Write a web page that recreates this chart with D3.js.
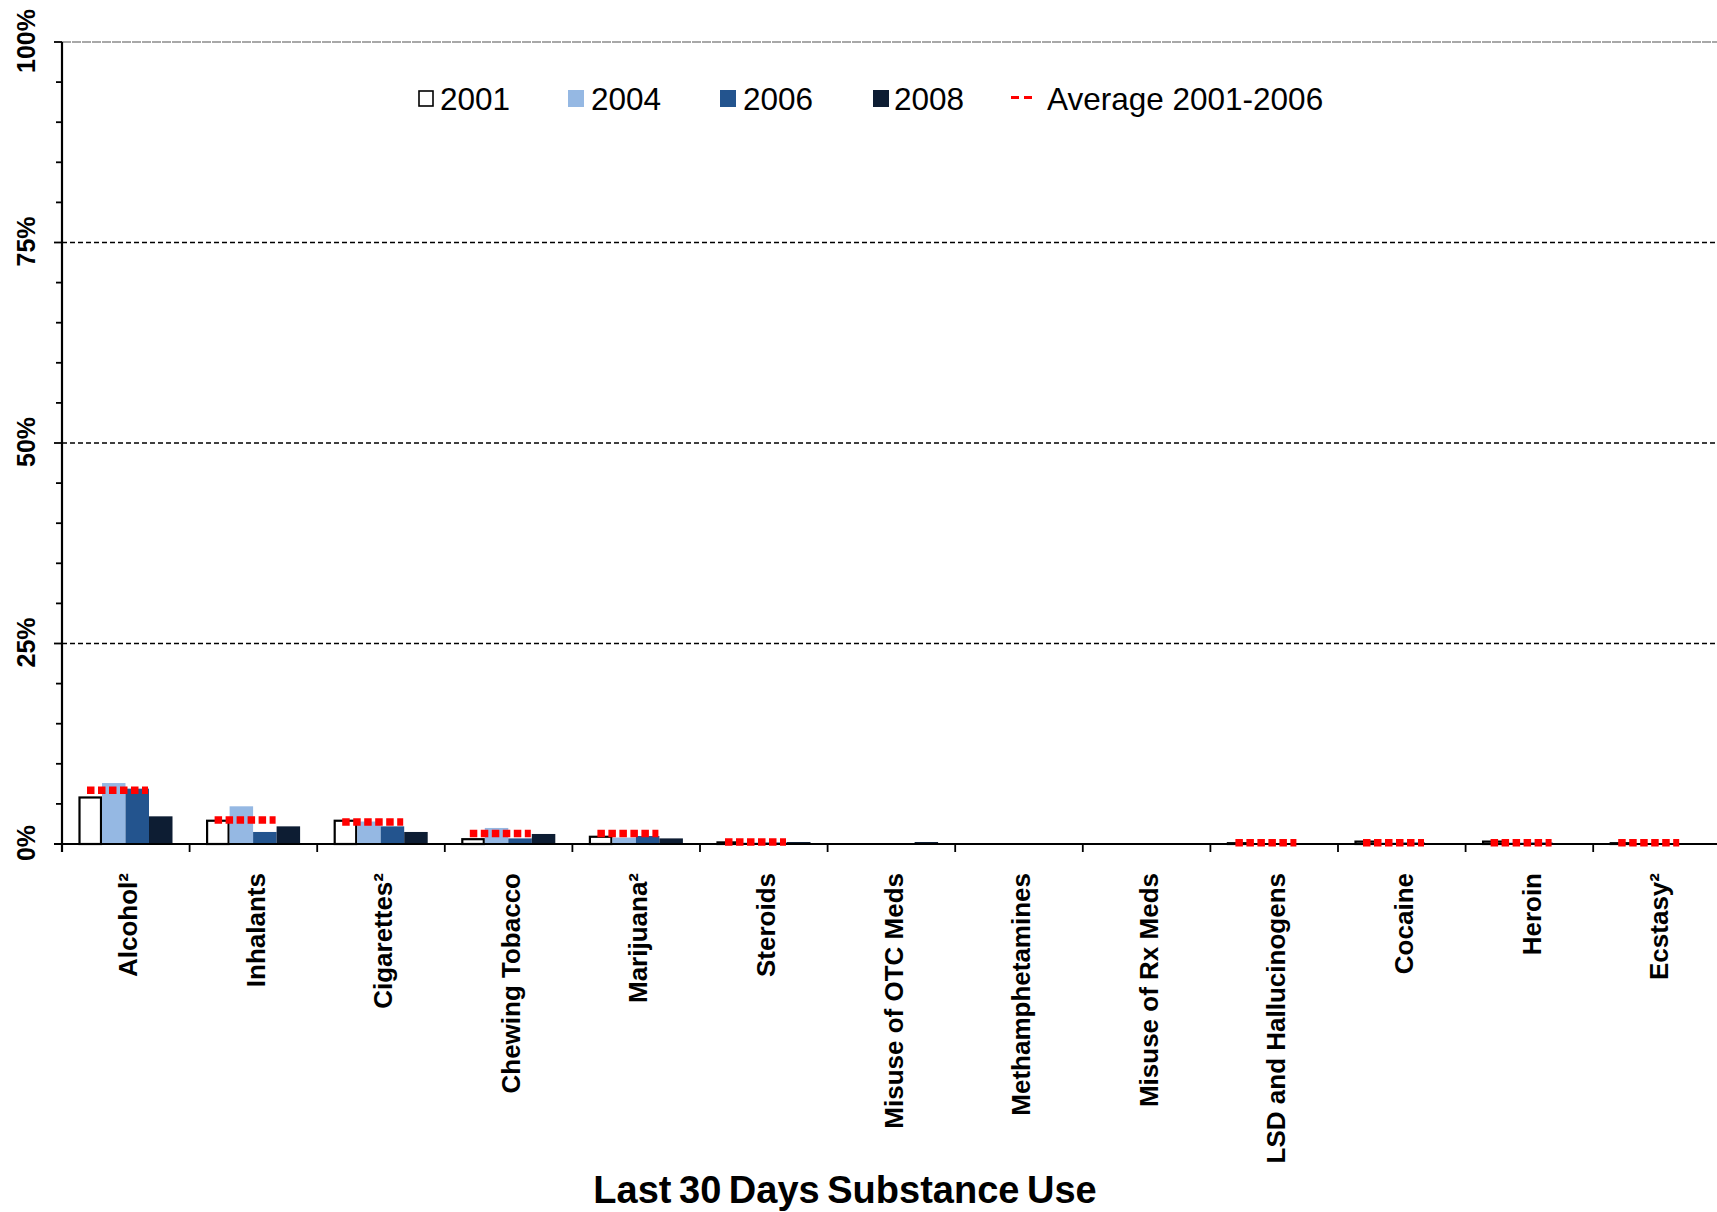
<!DOCTYPE html>
<html><head><meta charset="utf-8">
<script src="https://cdn.jsdelivr.net/npm/d3@7"></script>
<style>
html,body{margin:0;padding:0;background:#fff;}
svg{display:block;font-family:"Liberation Sans",Arial,sans-serif;}
</style></head>
<body><svg id="c" width="1717" height="1212"></svg>
<script>
const categories = ["Alcohol²","Inhalants","Cigarettes²","Chewing Tobacco","Marijuana²","Steroids","Misuse of OTC Meds","Methamphetamines","Misuse of Rx Meds","LSD and Hallucinogens","Cocaine","Heroin","Ecstasy²"];
const years = ["2001","2004","2006","2008"];
const v2001 = [5.8,2.9,2.9,0.6,0.9,0.2,0,0,0,0.1,0.3,0.3,0.1];
const v2004 = [7.6,4.7,2.8,2.0,0.8,0.2,0,0,0,0.1,0.2,0.2,0.1];
const v2006 = [6.9,1.5,2.2,0.7,1.0,0.2,0,0,0,0.1,0.2,0.2,0.1];
const v2008 = [3.45,2.2,1.5,1.25,0.7,0.25,0.25,0.1,0.1,0,0,0,0];
const avg0106 = [6.7,3.0,2.75,1.3,1.3,0.25,null,null,null,0.15,0.15,0.15,0.15];
const yTicks = [0,25,50,75,100];
const yTickLabels = ["0%","25%","50%","75%","100%"];
const legendLabels = ["2001","2004","2006","2008","Average 2001-2006"];
const xTitle = "Last 30 Days Substance Use";

const series = [v2001,v2004,v2006,v2008];
const fills = ["#ffffff","#95b8e3","#23548e","#0d1d33"];

const svg = d3.select("#c");
const X0 = 62, BW = 127.6;
const x = d3.scaleBand().domain(categories).range([X0, X0 + BW*categories.length]).padding(0);
const xi = d3.scaleBand().domain(years).range([16.5, 16.5+94]).padding(0);
const y = d3.scaleLinear().domain([0,100]).range([844,42]);

const defs = svg.append("defs");
defs.append("filter").attr("id","glow").attr("filterUnits","userSpaceOnUse")
  .attr("x",0).attr("y",0).attr("width",1717).attr("height",1212)
  .append("feGaussianBlur").attr("stdDeviation",0.7);

// gridlines
svg.append("g").selectAll("line").data([25,50,75]).join("line")
  .attr("x1",X0).attr("x2",1717).attr("y1",d=>y(d)).attr("y2",d=>y(d))
  .attr("stroke","#000").attr("stroke-width",1.3).attr("stroke-dasharray","5,3");
svg.append("line").attr("x1",X0).attr("x2",1717).attr("y1",y(100)).attr("y2",y(100))
  .attr("stroke","#8c8c8c").attr("stroke-width",1.5).attr("stroke-dasharray","9,1");

// bars
const gBars = svg.append("g");
categories.forEach((c,ci)=>{
  series.forEach((s,si)=>{
    const v = s[ci];
    if(!(v>0)) return;
    const r = gBars.append("rect")
      .attr("x", x(c)+xi(years[si]) + (si===0?1:0))
      .attr("width", xi.bandwidth() - (si===0?2:0))
      .attr("y", y(v)).attr("height", y(0)-y(v))
      .attr("fill", fills[si]);
    if(si===0) r.attr("stroke","#000").attr("stroke-width",2.2);
  });
});

// axes
const ax = svg.append("g").attr("stroke","#000");
ax.append("line").attr("x1",X0).attr("x2",X0).attr("y1",y(100)).attr("y2",852).attr("stroke-width",2.2);
ax.append("line").attr("x1",54).attr("x2",1717).attr("y1",y(0)).attr("y2",y(0)).attr("stroke-width",2.2);
const minor = d3.range(0,101,5);
ax.selectAll(".mt").data(minor).join("line")
  .attr("x1",d=>d%25===0?54:56).attr("x2",X0).attr("y1",d=>y(d)).attr("y2",d=>y(d)).attr("stroke-width",1.8);
ax.selectAll(".xt").data(categories).join("line")
  .attr("x1",(d,i)=>X0+BW*(i+1)).attr("x2",(d,i)=>X0+BW*(i+1))
  .attr("y1",y(0)).attr("y2",852).attr("stroke-width",1.8);

// average lines
svg.append("g").attr("filter","url(#glow)").selectAll("line")
  .data(categories.map((c,i)=>({c,v:avg0106[i]})).filter(d=>d.v!=null)).join("line")
  .attr("x1",d=>x(d.c)+25).attr("x2",d=>x(d.c)+86)
  .attr("y1",d=>y(d.v)).attr("y2",d=>y(d.v))
  .attr("stroke","#ff0000").attr("stroke-width",7.5).attr("stroke-dasharray","7.5,3.5");

// y tick labels
svg.append("g").selectAll("text").data(yTicks).join("text")
  .attr("transform",d=>`translate(35,${y(d)-1}) rotate(-90)`)
  .attr("text-anchor","middle").attr("font-size",25).attr("font-weight","bold")
  .text((d,i)=>yTickLabels[i]);

// category labels
svg.append("g").selectAll("text").data(categories).join("text")
  .attr("transform",d=>`translate(${x(d)+x.bandwidth()/2+2},873) rotate(-90)`)
  .attr("text-anchor","end").attr("dy","0.35em").attr("font-size",26).attr("font-weight","bold")
  .text(d=>d);

// x title
svg.append("text").attr("x",845).attr("y",1203).attr("text-anchor","middle")
  .attr("font-size",38).attr("font-weight","bold").attr("word-spacing","-3")
  .text(xTitle);

// legend
const lg = svg.append("g");
const sqX = [418,568,720,873];
const txX = [440,591,743,894];
years.forEach((yr,i)=>{
  const r = lg.append("rect").attr("x",sqX[i]).attr("y",90).attr("width",16).attr("height",17).attr("fill",fills[i]);
  if(i===0) r.attr("stroke","#000").attr("stroke-width",1.6).attr("x",419).attr("width",14).attr("y",91).attr("height",15);
  lg.append("text").attr("x",txX[i]).attr("y",110).attr("font-size",31.5).text(legendLabels[i]);
});
lg.append("line").attr("x1",1011).attr("x2",1032).attr("y1",97.5).attr("y2",97.5)
  .attr("stroke","#ff0000").attr("stroke-width",3).attr("stroke-dasharray","8,5");
lg.append("text").attr("x",1047).attr("y",110).attr("font-size",31.5).text(legendLabels[4]);
</script></body></html>
